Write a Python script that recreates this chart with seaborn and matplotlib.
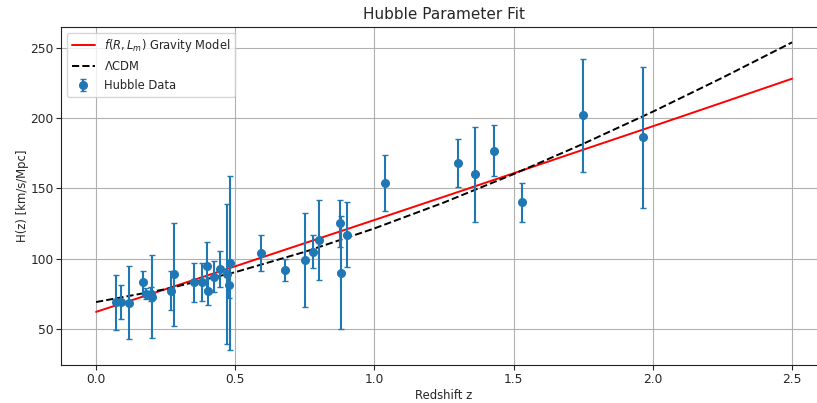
import numpy as np
import pandas as pd
import matplotlib
matplotlib.use('Agg')
import matplotlib.pyplot as plt
import seaborn as sns

# Cosmic chronometer H(z) points
z_obs = [0.07, 0.09, 0.12, 0.17, 0.179, 0.199, 0.20, 0.27, 0.28, 0.352, 0.38,
         0.40, 0.4004, 0.425, 0.445, 0.47, 0.4783, 0.48, 0.593, 0.68, 0.75,
         0.781, 0.80, 0.875, 0.88, 0.90, 1.037, 1.30, 1.363, 1.43, 1.53,
         1.75, 1.965]
H_obs = [69.0, 69.0, 68.6, 83.0, 75.0, 75.0, 72.9, 77.0, 88.8, 83.0, 83.0,
         95.0, 77.0, 87.1, 92.8, 89.0, 80.9, 97.0, 104.0, 92.0, 98.8,
         105.0, 113.1, 125.0, 90.0, 117.0, 154.0, 168.0, 160.0, 177.0, 140.0,
         202.0, 186.5]
H_err = [19.6, 12.0, 26.2, 8.0, 4.0, 5.0, 29.6, 14.0, 36.6, 14.0, 13.5,
         17.0, 10.2, 11.2, 12.9, 49.6, 9.0, 62.0, 13.0, 8.0, 33.6,
         12.0, 28.5, 17.0, 40.0, 23.0, 20.0, 17.0, 33.6, 18.0, 14.0,
         40.0, 50.4]

# model curves, values read at steps of 0.25 in z
z_model = [0.0, 0.25, 0.5, 0.75, 1.0, 1.25, 1.5, 1.75, 2.0, 2.25, 2.5]
H_frlm = [62.0, 78.2, 94.5, 111.0, 127.5, 144.1, 160.8, 177.6, 194.3, 211.2, 228.2]
H_lcdm = [69.0, 78.2, 90.3, 104.8, 121.5, 140.0, 160.2, 181.8, 204.7, 228.9, 254.1]

sns.set_style('ticks')
plt.rcParams['font.family'] = ['DejaVu Sans']
plt.rcParams['axes.edgecolor'] = '#222222'

fig, ax = plt.subplots(figsize=(8.17, 4.03), dpi=100)
# the reference is cropped on the right, so the axes run past the image edge
fig.subplots_adjust(left=0.075, right=1.012, top=0.933, bottom=0.094)

models = pd.DataFrame({'z': z_model, 'frlm': H_frlm, 'lcdm': H_lcdm})
sns.lineplot(data=models, x='z', y='frlm', color='red', linewidth=1.4,
             label=r'$f(R, L_m)$ Gravity Model', ax=ax)
sns.lineplot(data=models, x='z', y='lcdm', color='black', linewidth=1.4,
             linestyle='--', label=r'$\Lambda$CDM', ax=ax)
ax.errorbar(z_obs, H_obs, yerr=H_err, fmt='o', color='#1f77b4', ecolor='#1f77b4',
            capsize=2, markersize=5.5, elinewidth=1.5, label='Hubble Data')

ax.set_title('Hubble Parameter Fit', fontsize=11)
ax.set_xlabel('Redshift z', fontsize=8.4, labelpad=2)
ax.set_ylabel('H(z) [km/s/Mpc]', fontsize=8.4, labelpad=1)
ax.tick_params(labelsize=8.8, length=3.5, pad=2)
ax.grid(True, color='#b0b0b0', linewidth=0.8)
ax.legend(loc='upper left', fontsize=8.3)
ax.margins(x=0.05, y=0.05)
ax.spines['right'].set_visible(False)

fig.savefig('out.png', dpi=100)
